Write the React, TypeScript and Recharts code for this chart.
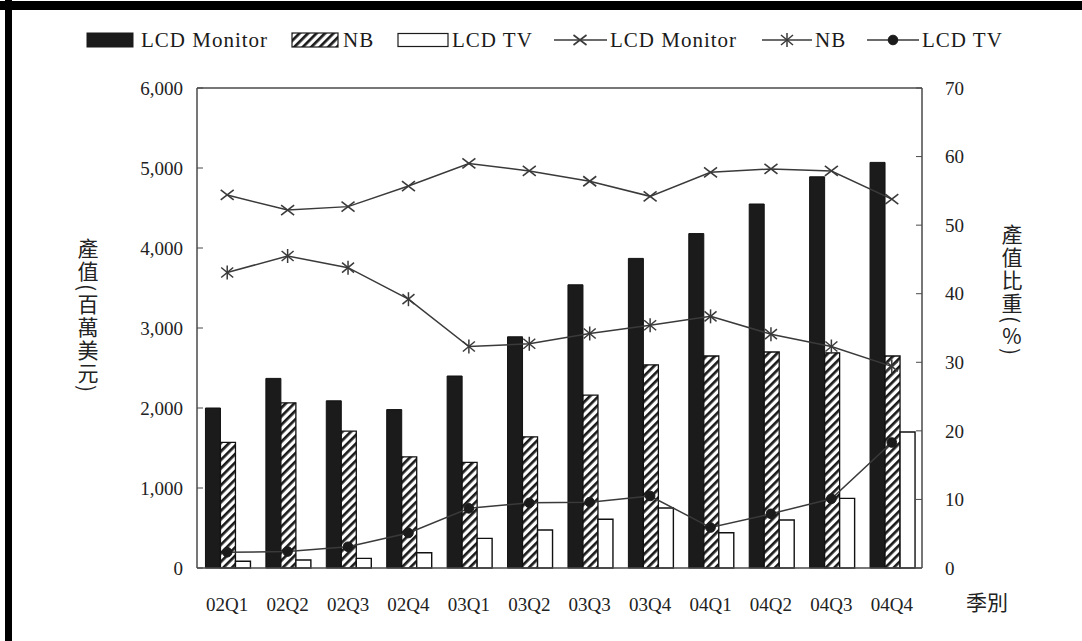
import React from 'react';
import { ComposedChart, Bar, Line, XAxis, YAxis, ReferenceLine } from 'recharts';

// Quarterly output value (million USD) and share of output (%)
const quarters = ['02Q1', '02Q2', '02Q3', '02Q4', '03Q1', '03Q2', '03Q3', '03Q4', '04Q1', '04Q2', '04Q3', '04Q4'];
const monitorOutput = [2000, 2370, 2090, 1980, 2400, 2890, 3540, 3870, 4180, 4550, 4890, 5070];
const nbOutput = [1570, 2065, 1710, 1390, 1320, 1640, 2160, 2540, 2650, 2700, 2690, 2650];
const tvOutput = [85, 100, 120, 190, 370, 475, 610, 750, 440, 600, 870, 1700];
const monitorShare = [54.4, 52.2, 52.7, 55.7, 59.0, 57.9, 56.4, 54.2, 57.7, 58.2, 57.9, 53.8];
const nbShare = [43.1, 45.5, 43.8, 39.2, 32.3, 32.7, 34.2, 35.4, 36.7, 34.1, 32.3, 29.4];
const tvShare = [2.3, 2.4, 3.1, 5.1, 8.7, 9.5, 9.6, 10.5, 5.9, 7.9, 10.1, 18.3];
const valueTicks = [0, 1000, 2000, 3000, 4000, 5000, 6000];
const shareTicks = [0, 10, 20, 30, 40, 50, 60, 70];
const seriesNames = ['LCD Monitor', 'NB', 'LCD TV'];

const data = quarters.map((q, i) => ({
  quarter: q,
  monitorOutput: monitorOutput[i],
  nbOutput: nbOutput[i],
  tvOutput: tvOutput[i],
  monitorShare: monitorShare[i],
  nbShare: nbShare[i],
  tvShare: tvShare[i],
}));

const INK = '#1b1b1b';
const LINE = '#3a3a3a';
const FRAME = '#4a4a4a';
const SERIF = "'Liberation Serif', 'Times New Roman', serif";
const CJK = "'Noto Sans CJK TC', 'Noto Sans CJK SC', sans-serif";

const tickStyle = { fontFamily: SERIF, fontSize: 19, fill: '#222' };

const crossMark = (cx: number, cy: number, key?: string | number) => (
  <g key={key}>
    <line x1={cx - 6.5} y1={cy - 5} x2={cx + 6.5} y2={cy + 5} stroke={LINE} strokeWidth={1.6} />
    <line x1={cx - 6.5} y1={cy + 5} x2={cx + 6.5} y2={cy - 5} stroke={LINE} strokeWidth={1.6} />
  </g>
);

const starMark = (cx: number, cy: number, key?: string | number) => (
  <g key={key}>
    <line x1={cx - 6} y1={cy - 5} x2={cx + 6} y2={cy + 5} stroke={LINE} strokeWidth={1.5} />
    <line x1={cx - 6} y1={cy + 5} x2={cx + 6} y2={cy - 5} stroke={LINE} strokeWidth={1.5} />
    <line x1={cx} y1={cy - 7} x2={cx} y2={cy + 7} stroke={LINE} strokeWidth={1.5} />
  </g>
);

const dotMark = (cx: number, cy: number, key?: string | number) => (
  <circle key={key} cx={cx} cy={cy} r={4.8} fill={INK} stroke={INK} />
);

const renderCross = (p: any) => crossMark(p.cx, p.cy, `c-${p.index}`);
const renderStar = (p: any) => starMark(p.cx, p.cy, `s-${p.index}`);
const renderDot = (p: any) => dotMark(p.cx, p.cy, `d-${p.index}`);

const hatchDefs = (id: string) => (
  <defs>
    <pattern id={id} patternUnits="userSpaceOnUse" width={6} height={6} patternTransform="rotate(45)">
      <rect x={0} y={0} width={6} height={6} fill="#fff" />
      <rect x={0} y={0} width={2.7} height={6} fill={INK} />
    </pattern>
  </defs>
);

function ChartLegend() {
  const textProps = { fontFamily: SERIF, fontSize: 21, fill: '#1a1a1a', letterSpacing: 1 };
  return (
    <svg width={1082} height={70} style={{ position: 'absolute', left: 0, top: 0 }}>
      {hatchDefs('legendHatch')}
      <rect x={87} y={33} width={46} height={14} fill={INK} stroke={INK} />
      <text x={141} y={47} {...textProps}>{seriesNames[0]}</text>
      <rect x={292} y={33} width={46} height={14} fill="url(#legendHatch)" stroke={INK} strokeWidth={1.2} />
      <text x={343} y={47} {...textProps}>{seriesNames[1]}</text>
      <rect x={398} y={33.5} width={50} height={13} fill="#fff" stroke={INK} strokeWidth={1.2} />
      <text x={452} y={47} {...textProps}>{seriesNames[2]}</text>

      <line x1={554} y1={40} x2={607} y2={40} stroke={LINE} strokeWidth={1.6} />
      {crossMark(580, 40)}
      <text x={610} y={47} {...textProps}>{seriesNames[0]}</text>
      <line x1={762} y1={40} x2={812} y2={40} stroke={LINE} strokeWidth={1.6} />
      {starMark(787, 40)}
      <text x={815} y={47} {...textProps}>{seriesNames[1]}</text>
      <line x1={867} y1={40} x2={919} y2={40} stroke={LINE} strokeWidth={1.6} />
      {dotMark(893, 40)}
      <text x={922} y={47} {...textProps}>{seriesNames[2]}</text>
    </svg>
  );
}

export default function App() {
  return (
    <div style={{ position: 'absolute', left: 0, top: 0, width: 1082, height: 641, background: '#fff', overflow: 'hidden' }}>
      {/* page edge */}
      <div style={{ position: 'absolute', left: 0, top: 1, width: 1082, height: 9, background: '#000' }} />
      <div style={{ position: 'absolute', left: 5, top: 0, width: 7, height: 641, background: '#000' }} />

      <div style={{ position: 'absolute', left: 0, top: 0 }}>
        <ComposedChart
          width={1082}
          height={641}
          data={data}
          margin={{ top: 88, right: 100, bottom: 33, left: 137 }}
          barCategoryGap="14%"
          barGap={0}
        >
          {hatchDefs('nbHatch')}
          <XAxis
            dataKey="quarter"
            interval={0}
            height={40}
            tickSize={0}
            tickMargin={30}
            tickLine={false}
            axisLine={{ stroke: FRAME, strokeWidth: 1.5 }}
            tick={tickStyle}
          />
          <YAxis
            yAxisId="left"
            orientation="left"
            domain={[0, 6000]}
            ticks={valueTicks}
            width={60}
            tickSize={-6}
            tickMargin={20}
            tickFormatter={(v: number) => v.toLocaleString('en-US')}
            axisLine={{ stroke: FRAME, strokeWidth: 1.5 }}
            tickLine={{ stroke: FRAME, strokeWidth: 1 }}
            tick={tickStyle}
          />
          <YAxis
            yAxisId="right"
            orientation="right"
            domain={[0, 70]}
            ticks={shareTicks}
            width={60}
            tickSize={-6}
            tickMargin={29}
            axisLine={{ stroke: FRAME, strokeWidth: 1.5 }}
            tickLine={{ stroke: FRAME, strokeWidth: 1 }}
            tick={tickStyle}
          />
          <ReferenceLine yAxisId="left" y={6000} stroke={FRAME} strokeWidth={1.5} />

          <Bar yAxisId="left" dataKey="monitorOutput" name={seriesNames[0]} fill={INK} stroke="#111" strokeWidth={1} isAnimationActive={false} />
          <Bar yAxisId="left" dataKey="nbOutput" name={seriesNames[1]} fill="url(#nbHatch)" stroke="#111" strokeWidth={1.3} isAnimationActive={false} />
          <Bar yAxisId="left" dataKey="tvOutput" name={seriesNames[2]} fill="#fff" stroke="#111" strokeWidth={1.4} isAnimationActive={false} />

          <Line yAxisId="right" type="linear" dataKey="monitorShare" name={seriesNames[0]} stroke={LINE} strokeWidth={1.5} dot={renderCross} activeDot={false} isAnimationActive={false} />
          <Line yAxisId="right" type="linear" dataKey="nbShare" name={seriesNames[1]} stroke={LINE} strokeWidth={1.5} dot={renderStar} activeDot={false} isAnimationActive={false} />
          <Line yAxisId="right" type="linear" dataKey="tvShare" name={seriesNames[2]} stroke={LINE} strokeWidth={1.5} dot={renderDot} activeDot={false} isAnimationActive={false} />
        </ComposedChart>
      </div>

      <ChartLegend />

      <div style={{ position: 'absolute', left: 77, top: 238, writingMode: 'vertical-rl', fontFamily: CJK, fontSize: 21, letterSpacing: 2, color: '#222', lineHeight: 1 }}>
        產值(百萬美元)
      </div>
      <div style={{ position: 'absolute', left: 1001, top: 224, writingMode: 'vertical-rl', fontFamily: CJK, fontSize: 21, letterSpacing: 2, color: '#222', lineHeight: 1 }}>
        產值比重(<span style={{ textOrientation: 'upright' }}>%</span>)
      </div>
      <div style={{ position: 'absolute', left: 966, top: 591, fontFamily: CJK, fontSize: 21, color: '#222', lineHeight: 1 }}>
        季別
      </div>
    </div>
  );
}
